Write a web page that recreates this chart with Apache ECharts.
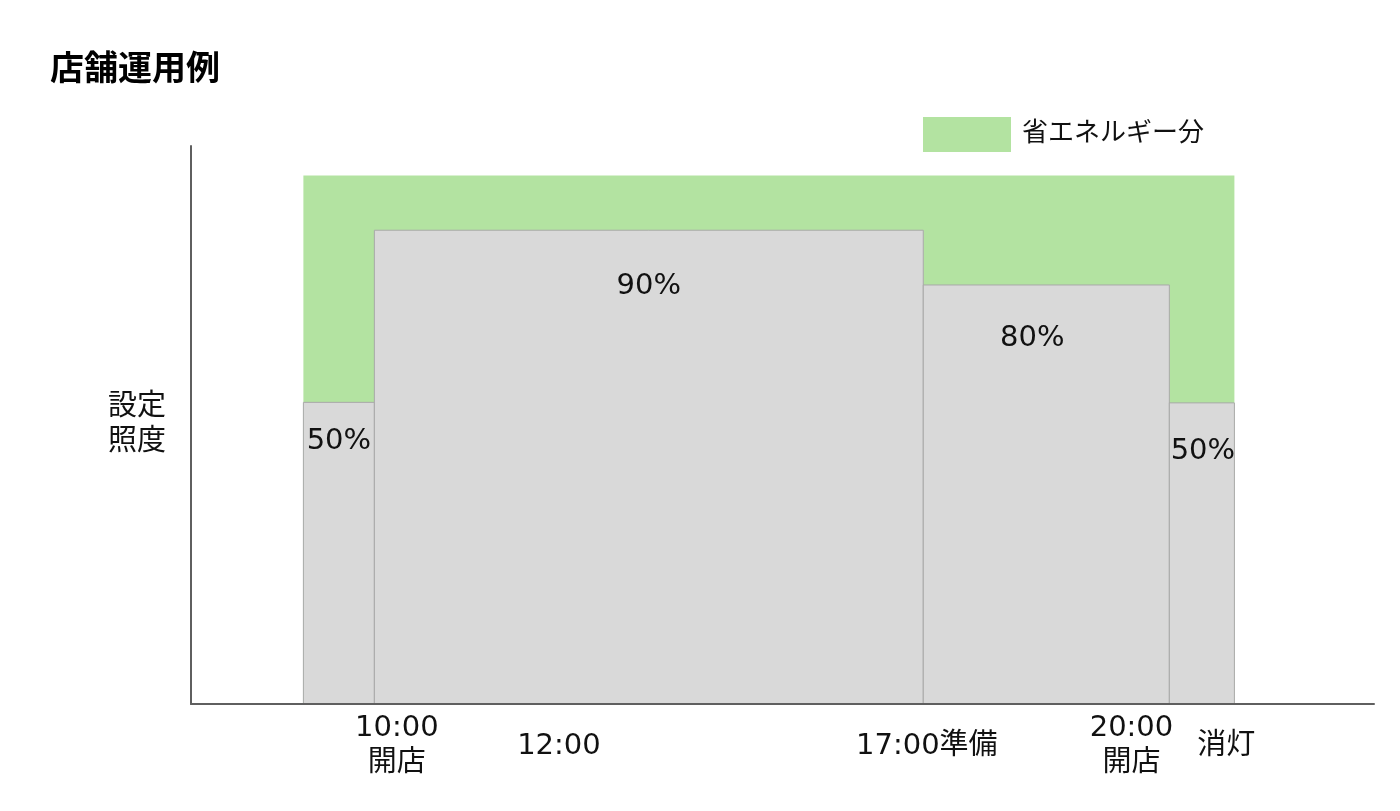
<!DOCTYPE html>
<html>
<head>
<meta charset="utf-8">
<script src="https://cdn.jsdelivr.net/npm/echarts@6/dist/echarts.min.js"></script>
<style>
html,body{margin:0;padding:0;background:#fff;}
#chart{width:1400px;height:811px;}
</style>
</head>
<body>
<div id="chart"></div>
<script>
// ---- data ----
var titleText = '店舗運用例';
var legendName = '省エネルギー分';
var yName = '設定\n照度';
// segment boundaries on an abstract time axis (0..100)
var segStart = [9.5, 15.5, 61.9, 82.7];
var segEnd = [15.5, 61.9, 82.7, 88.2];
// bar heights as drawn (relative units, full = 100)
var barHeights = [57.3, 90, 79.6, 57.2];
var barLabels = ['50%', '90%', '80%', '50%'];
// saving area (full illumination)
var fullStart = 9.5, fullEnd = 88.2, fullHeight = 100.4;
// x tick labels
var tickValues = [17.4, 31.1, 62.2, 79.5, 87.5];
var tickLabels = ['10:00\n開店', '12:00', '17:00準備', '20:00\n開店', '消灯'];

// ---- layout constants (not data) ----
var labelDx = [0, 0, -14, 1];
var labelDy = [39, 56, 53, 49];
var FONT = '"DejaVu Sans", "Noto Sans CJK JP", sans-serif';

var barData = segStart.map(function (s, i) { return [s, segEnd[i], barHeights[i]]; });
var fullData = [[fullStart, fullEnd, fullHeight]];

var chart = echarts.init(document.getElementById('chart'));
chart.setOption({
  animation: false,
  backgroundColor: '#ffffff',
  title: {
    text: titleText, left: 45, top: 45,
    textStyle: { fontSize: 34, fontWeight: 'bold', color: '#000', fontFamily: '"Noto Sans CJK JP", sans-serif' }
  },
  legend: {
    data: [{ name: legendName, icon: 'rect' }],
    left: 923, top: 117, padding: 0,
    itemWidth: 88, itemHeight: 35, selectedMode: false,
    textStyle: { fontSize: 26, color: '#111', fontFamily: FONT, padding: [0, 0, 0, 6] }
  },
  grid: { left: 191, top: 146, width: 1183, height: 558, containLabel: false },
  xAxis: {
    type: 'value', min: 0, max: 100, z: 5,
    splitLine: { show: false },
    axisTick: { show: false },
    axisLine: { show: true, lineStyle: { color: '#5f5f5f', width: 2 } },
    axisLabel: {
      customValues: tickValues,
      margin: 42, verticalAlign: 'middle', lineHeight: 35,
      fontSize: 29, color: '#111', fontFamily: FONT,
      formatter: function (v) {
        var i = tickValues.indexOf(v);
        if (i < 0) {
          for (var k = 0; k < tickValues.length; k++) { if (Math.abs(tickValues[k] - v) < 1e-6) i = k; }
        }
        return i >= 0 ? tickLabels[i] : '';
      }
    }
  },
  yAxis: {
    type: 'value', min: 0, max: 106, z: 5,
    name: yName, nameLocation: 'middle', nameRotate: 0, nameGap: 25,
    nameTextStyle: { fontSize: 29, lineHeight: 35, color: '#111', fontFamily: FONT, align: 'right' },
    splitLine: { show: false },
    axisTick: { show: false },
    axisLabel: { show: false },
    axisLine: { show: true, lineStyle: { color: '#5f5f5f', width: 2 } }
  },
  series: [
    {
      name: legendName, type: 'custom', z: 1,
      itemStyle: { color: '#b3e3a1' },
      encode: { x: [0, 1], y: 2 },
      data: fullData,
      renderItem: function (params, api) {
        var p0 = api.coord([api.value(0), api.value(2)]);
        var p1 = api.coord([api.value(1), 0]);
        return { type: 'rect', shape: { x: p0[0], y: p0[1], width: p1[0] - p0[0], height: p1[1] - p0[1] },
          style: { fill: '#b3e3a1' } };
      }
    },
    {
      name: '設定照度', type: 'custom', z: 2,
      itemStyle: { color: '#d9d9d9' },
      encode: { x: [0, 1], y: 2 },
      data: barData,
      renderItem: function (params, api) {
        var i = params.dataIndex;
        var p0 = api.coord([api.value(0), api.value(2)]);
        var p1 = api.coord([api.value(1), 0]);
        return {
          type: 'group',
          children: [
            { type: 'rect', shape: { x: p0[0], y: p0[1], width: p1[0] - p0[0], height: p1[1] - p0[1] },
              style: { fill: '#d9d9d9', stroke: '#a9a9a9', lineWidth: 1 } },
            { type: 'text', x: (p0[0] + p1[0]) / 2 + labelDx[i], y: p0[1] + labelDy[i],
              style: { text: barLabels[i], fill: '#111', fontSize: 29, fontFamily: FONT, align: 'center', verticalAlign: 'middle' } }
          ]
        };
      }
    }
  ]
});
</script>
</body>
</html>
